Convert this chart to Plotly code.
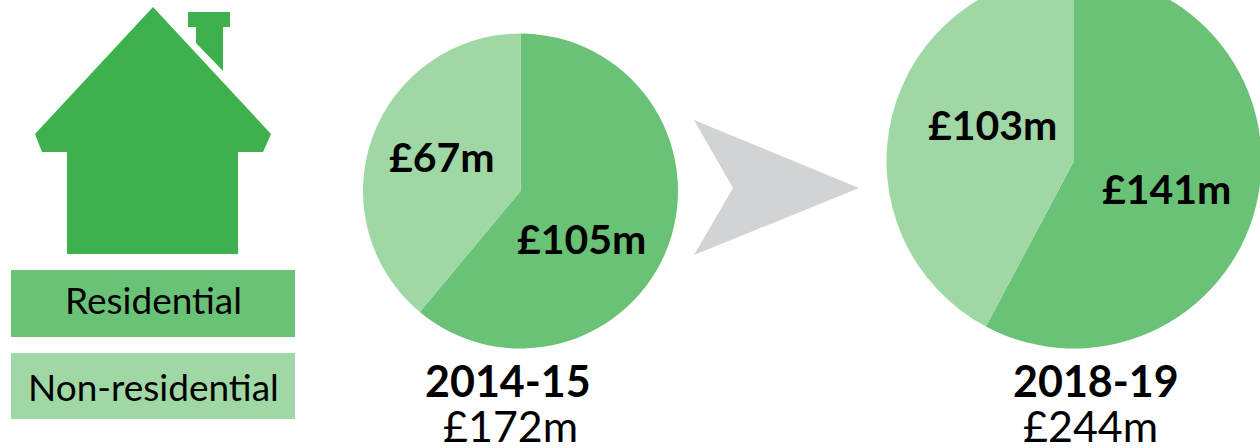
import plotly.graph_objects as go

# values
categories = ["Residential", "Non-residential"]
years = ["2014-15", "2018-19"]
totals = ["£172m", "£244m"]
values_2014 = [105, 67]
values_2018 = [141, 103]

GREEN = "#3DB14D"
RESIDENTIAL = "#69C275"
NON_RESIDENTIAL = "#9FD8A5"
ARROW = "#D1D3D4"
FONT = "Lato"

# the right pie runs off the top of the page, so the figure is taller
# than the window and gets pushed up by TOP px after plotting
TOP = 28
W = 1262
H = 448 + TOP


def px(x):
    return x / W


def py(y):
    return 1 - (y + TOP) / H


def pie_domain(cx, cy, r):
    return dict(x=[px(cx - r), px(cx + r)], y=[py(cy + r), py(cy - r)])


def path(points):
    return "M " + " L ".join(f"{px(x)},{py(y)}" for x, y in points) + " Z"


def label(x, y, text, size, bold=False, height=None):
    return dict(
        x=px(x), y=py(y), xref="paper", yref="paper", text=f"<b>{text}</b>" if bold else text,
        showarrow=False, xanchor="center", yanchor="middle", height=height,
        font=dict(family=FONT, size=size, color="#000000"),
    )


def rect(y0, y1, color):
    return dict(type="rect", xref="paper", yref="paper", x0=px(11), x1=px(295),
                y0=py(y0), y1=py(y1), fillcolor=color, line_width=0)


def poly(points, color):
    return dict(type="path", xref="paper", yref="paper", path=path(points),
                fillcolor=color, line_width=0)


house = [(153, 7), (271, 134), (263, 152), (238, 152), (238, 254), (67, 254),
         (67, 152), (42, 152), (35, 134)]
chimney = [(188, 12), (230, 12), (230, 27), (223, 27), (223, 71), (196, 43),
           (196, 27), (188, 27)]
arrow = [(694, 120), (859, 188), (694, 255), (733, 188)]

fig = go.Figure()
for vals, dom in [(values_2014, pie_domain(520.5, 191, 157.5)),
                  (values_2018, pie_domain(1074, 161, 187.5))]:
    fig.add_trace(go.Pie(
        labels=categories, values=vals, domain=dom, sort=False, direction="clockwise",
        rotation=0, textinfo="none", hoverinfo="label+value",
        marker=dict(colors=[RESIDENTIAL, NON_RESIDENTIAL], line=dict(width=0)),
    ))

fig.update_layout(
    width=W, height=H, margin=dict(l=0, r=0, t=0, b=0), showlegend=False,
    paper_bgcolor="#ffffff", plot_bgcolor="#ffffff",
    shapes=[
        poly(house, GREEN), poly(chimney, GREEN), poly(arrow, ARROW),
        rect(270, 337, RESIDENTIAL), rect(353, 419, NON_RESIDENTIAL),
    ],
    annotations=[
        label(153, 299.5, categories[0], 37),
        label(153, 386, categories[1], 37),
        label(581, 238, f"£{values_2014[0]}m", 41, True),
        label(442, 157, f"£{values_2014[1]}m", 41, True),
        label(1166, 189, f"£{values_2018[0]}m", 41, True),
        label(992, 125, f"£{values_2018[1]}m", 41, True),
        label(508, 380, years[0], 43, True, 44),
        label(510, 425, totals[0], 43, False, 44),
        label(1096, 380, years[1], 43, True, 44),
        label(1090, 425, totals[1], 43, False, 44),
    ],
)

shift = (
    "document.body.style.margin='0';"
    "document.documentElement.style.overflow='hidden';"
    "document.body.style.overflow='hidden';"
    f"document.body.style.marginTop='-{TOP}px';"
)
fig.write_html("out.html", post_script=shift, config=dict(displayModeBar=False))
